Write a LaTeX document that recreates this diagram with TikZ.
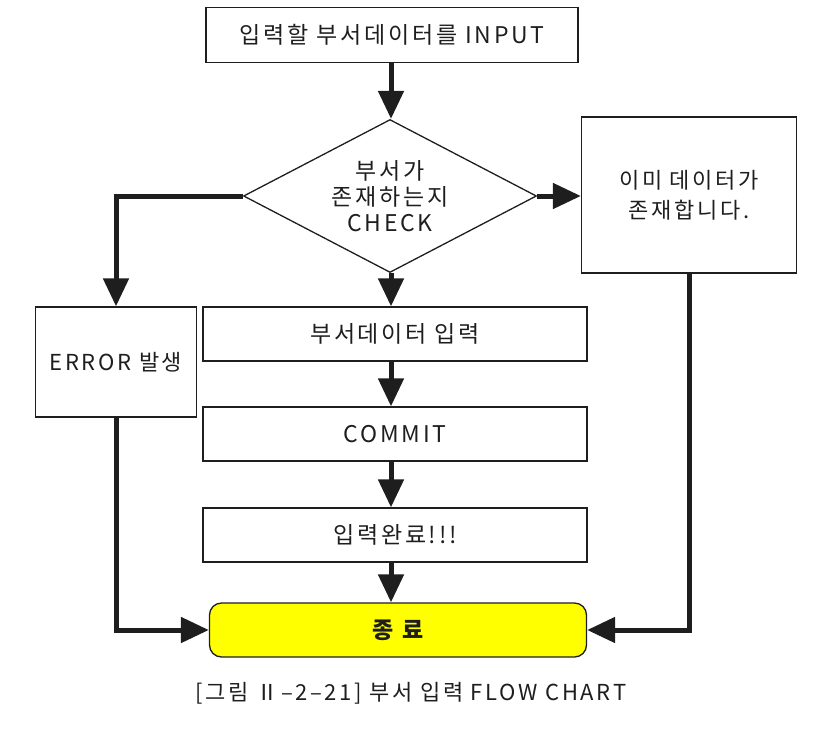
\documentclass[tikz,border=0pt]{standalone}
\usepackage{fontspec}
\setmainfont{Noto Sans CJK KR}[LetterSpace=12]
\usetikzlibrary{positioning,arrows.meta,calc,shapes.geometric}
\definecolor{ink}{HTML}{1E1E1E}
\definecolor{endfill}{HTML}{FFFF00}

\begin{document}
\begin{tikzpicture}[x=1pt,y=-1pt,
      txt/.style={font=\fontsize{23}{26}\selectfont,text=ink,align=center},
      box/.style={txt,draw=ink,line width=1.3pt,inner sep=0pt},
      arr/.style={ink,line width=5pt,-{Triangle[length=28pt,width=25pt]}}]
    \useasboundingbox (0,0) rectangle (813,734);
    \node[box,minimum width=372pt,minimum height=55pt] (input) at (392,35){입력할 부서데이터를 INPUT};
    \node[box,diamond,shape aspect=2,minimum width=293pt,minimum height=153pt] (check) at (390,196){부서가\\존재하는지\\CHECK};
    \node[box,minimum width=215pt,minimum height=156pt,font=\fontsize{22}{30}\selectfont] (exists) at (689,195){이미 데이터가\\존재합니다.};
    \node[box,minimum width=161pt,minimum height=110pt,font=\fontsize{22}{26}\selectfont] (error) at (116,362){ERROR 발생};
    \node[box,minimum width=384pt,minimum height=54pt] (dept) at (395,334){부서데이터 입력};
    \node[box,minimum width=384pt,minimum height=54pt] (commit) at (395,434){COMMIT};
    \node[box,minimum width=384pt,minimum height=54pt] (done) at (395,535){입력완료!!!};
    \node[box,fill=endfill,rounded corners=12pt,minimum width=377pt,minimum height=54pt] (stop) at (398,630){\bfseries 종 료};
    \node[txt,font=\fontsize{22}{26}\selectfont] (caption) at (411,693){[그림 Ⅱ–2–21] 부서 입력 FLOW CHART};
    % main column
    \draw[arr] (input.south -| 391,0) -- (check.north -| 391,0);
    \draw[arr] (check.south -| 391,0) -- (dept.north -| 391,0);
    \draw[arr] (dept.south -| 391,0) -- (commit.north -| 391,0);
    \draw[arr] (commit.south -| 391,0) -- (done.north -| 391,0);
    \draw[arr] (done.south -| 391,0) -- (stop.north -| 391,0);
    % side branches
    \draw[arr] (check.east) -- (exists.west |- check.east);
    \draw[arr] (check.west) -| (error.north);
    \draw[arr] (error.south) |- (stop.west);
    \draw[arr] (exists.south) |- (stop.east);
  \end{tikzpicture}
\end{document}
